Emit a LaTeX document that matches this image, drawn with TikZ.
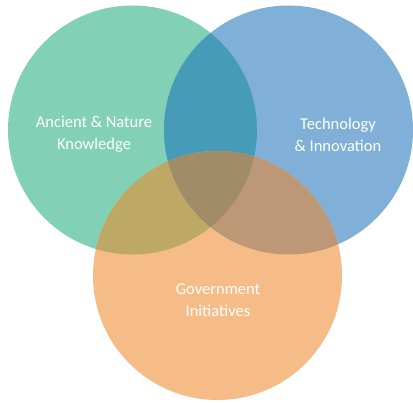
\documentclass[tikz,border=0pt]{standalone}
\usepackage{fontspec}
\setmainfont{Carlito}
\definecolor{cg}{HTML}{82D1B6}
\definecolor{cb}{HTML}{80B0D8}
\definecolor{co}{HTML}{F6BC88}
\definecolor{cgb}{HTML}{459BB8}
\definecolor{cgo}{HTML}{BDA865}
\definecolor{cbo}{HTML}{BC9877}
\definecolor{cgbo}{HTML}{A08D67}
\begin{document}
\begin{tikzpicture}[x=1pt,y=-1pt,
  lbl/.style={text=white,font=\fontsize{16.5}{22}\selectfont,align=center,inner sep=0pt}]
\useasboundingbox (0,0) rectangle (413,403);
\def\rr{124.5}
\coordinate (G) at (132.5,130);
\coordinate (B) at (288.5,130);
\coordinate (O) at (217.5,275.5);
\fill[cg] (G) circle (\rr);
\fill[cb] (B) circle (\rr);
\fill[co] (O) circle (\rr);
\begin{scope}
  \clip (G) circle (\rr);
  \fill[cgb] (B) circle (\rr);
  \fill[cgo] (O) circle (\rr);
\end{scope}
\begin{scope}
  \clip (B) circle (\rr);
  \fill[cbo] (O) circle (\rr);
  \clip (G) circle (\rr);
  \fill[cgbo] (O) circle (\rr);
\end{scope}
\node[lbl] (tg) at (94,134.5) {Ancient \& Nature\\Knowledge};
\node[lbl] (tb) at (338,134.5) {Technology\\\& Innovation};
\node[lbl] (to) at (218,300.5) {Government\\Initiatives};
\end{tikzpicture}
\end{document}
